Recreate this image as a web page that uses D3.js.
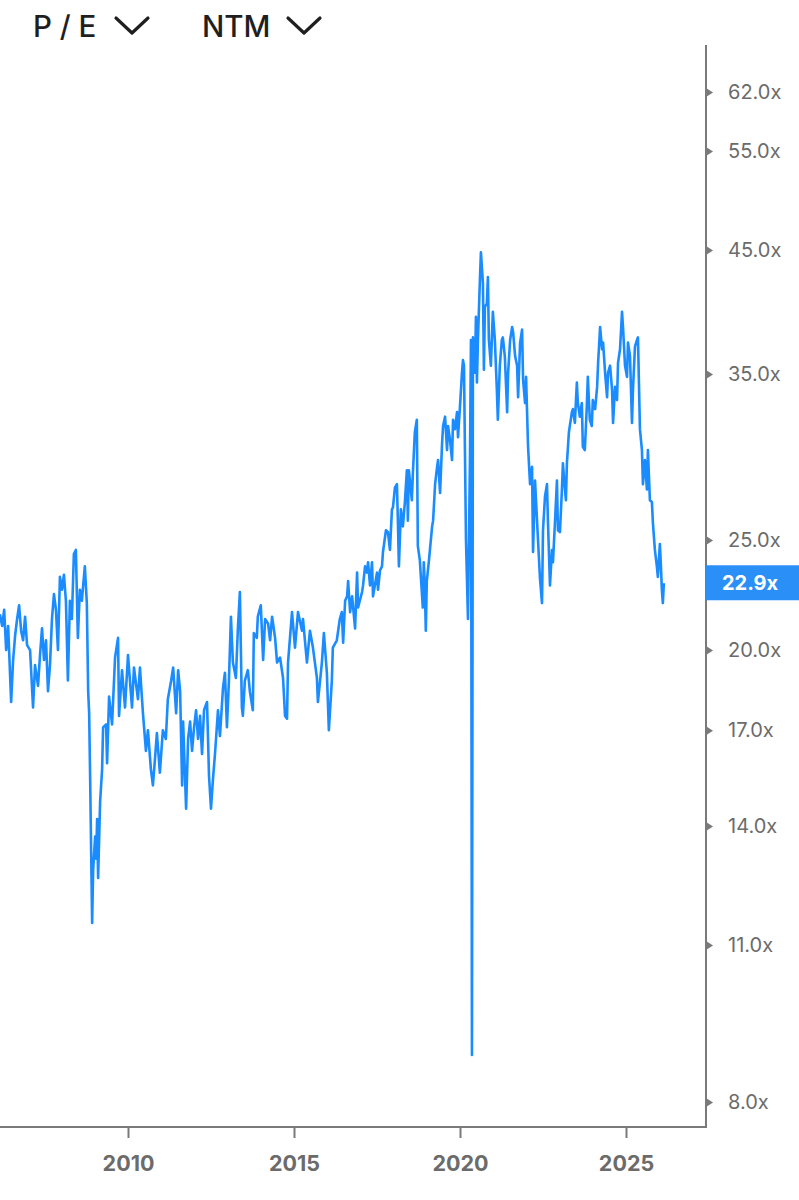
<!DOCTYPE html>
<html>
<head>
<meta charset="utf-8">
<script src="https://cdn.jsdelivr.net/npm/d3@7"></script>
<style>
  html, body { margin: 0; padding: 0; background: #fff; }
  svg { display: block; }
</style>
</head>
<body>
<svg id="chart" width="799" height="1200"></svg>
<script>
// ---- Data ----
const years = [
2006.14,2006.21,2006.27,2006.33,2006.39,2006.48,2006.54,2006.60,2006.66,2006.72,
2006.78,2006.84,2006.90,2006.96,2007.05,2007.14,2007.20,2007.29,2007.35,2007.41,
2007.47,2007.53,2007.59,2007.65,2007.71,2007.77,2007.83,2007.89,2007.95,2008.01,
2008.07,2008.13,2008.19,2008.25,2008.31,2008.37,2008.43,2008.49,2008.55,2008.61,
2008.70,2008.76,2008.80,2008.83,2008.86,2008.89,2008.92,2008.95,2009.01,2009.04,
2009.07,2009.10,2009.16,2009.22,2009.25,2009.34,2009.37,2009.43,2009.52,2009.61,
2009.70,2009.73,2009.82,2009.91,2010.00,2010.12,2010.18,2010.30,2010.36,2010.45,
2010.54,2010.60,2010.69,2010.75,2010.81,2010.87,2010.96,2011.05,2011.14,2011.20,
2011.30,2011.36,2011.45,2011.51,2011.57,2011.63,2011.66,2011.75,2011.81,2011.87,
2011.93,2011.99,2012.05,2012.11,2012.17,2012.23,2012.29,2012.38,2012.44,2012.50,
2012.56,2012.62,2012.71,2012.77,2012.86,2012.92,2012.98,2013.04,2013.10,2013.16,
2013.25,2013.31,2013.37,2013.43,2013.46,2013.52,2013.61,2013.67,2013.76,2013.79,
2013.88,2013.91,2014.00,2014.07,2014.13,2014.22,2014.28,2014.34,2014.43,2014.49,
2014.58,2014.67,2014.73,2014.79,2014.82,2014.94,2015.03,2015.12,2015.24,2015.27,
2015.39,2015.48,2015.57,2015.69,2015.72,2015.84,2015.90,2015.99,2016.05,2016.14,
2016.17,2016.29,2016.38,2016.44,2016.48,2016.54,2016.60,2016.63,2016.69,2016.75,
2016.84,2016.90,2016.93,2017.05,2017.08,2017.14,2017.20,2017.23,2017.29,2017.35,
2017.38,2017.50,2017.53,2017.59,2017.65,2017.68,2017.77,2017.83,2017.89,2017.95,
2017.98,2018.04,2018.10,2018.13,2018.16,2018.22,2018.28,2018.34,2018.40,2018.43,
2018.46,2018.55,2018.58,2018.64,2018.70,2018.73,2018.79,2018.85,2018.88,2018.91,
2018.94,2018.97,2019.00,2019.06,2019.16,2019.19,2019.25,2019.31,2019.34,2019.40,
2019.46,2019.49,2019.55,2019.61,2019.64,2019.70,2019.76,2019.79,2019.85,2019.91,
2019.94,2020.00,2020.06,2020.09,2020.12,2020.15,2020.18,2020.24,2020.30,2020.33,
2020.36,2020.39,2020.45,2020.48,2020.51,2020.54,2020.60,2020.63,2020.69,2020.72,
2020.75,2020.81,2020.84,2020.87,2020.93,2020.99,2021.05,2021.11,2021.14,2021.20,
2021.26,2021.29,2021.35,2021.42,2021.45,2021.51,2021.57,2021.60,2021.66,2021.72,
2021.75,2021.81,2021.87,2021.90,2021.96,2021.99,2022.05,2022.11,2022.17,2022.20,
2022.26,2022.32,2022.35,2022.41,2022.47,2022.50,2022.56,2022.62,2022.65,2022.71,
2022.77,2022.80,2022.86,2022.92,2022.95,2023.01,2023.07,2023.10,2023.13,2023.19,
2023.22,2023.28,2023.37,2023.40,2023.46,2023.52,2023.55,2023.61,2023.67,2023.70,
2023.76,2023.82,2023.85,2023.91,2023.97,2024.00,2024.07,2024.13,2024.16,2024.22,
2024.28,2024.31,2024.37,2024.43,2024.46,2024.52,2024.58,2024.61,2024.67,2024.73,
2024.76,2024.82,2024.88,2024.91,2024.97,2025.03,2025.06,2025.12,2025.18,2025.21,
2025.27,2025.33,2025.36,2025.42,2025.48,2025.51,2025.57,2025.63,2025.66,2025.72,
2025.78,2025.81,2025.87,2025.93,2025.96,2026.02,2026.05,2026.08,2026.11,2026.14
];
const peValues = [
21.5,21.0,21.7,20.0,21.0,18.0,19.6,20.6,21.3,21.9,
20.8,20.4,21.4,20.2,20.0,17.8,19.4,18.6,19.8,20.9,
19.6,20.4,18.4,19.4,21.3,22.4,21.7,20.0,23.2,22.6,
23.3,22.1,18.8,22.1,21.3,24.3,24.5,20.5,22.6,22.1,
23.7,22.0,18.4,17.6,15.4,13.3,11.5,12.8,13.7,13.1,
14.2,12.6,14.7,15.7,17.1,17.2,15.9,18.2,17.2,19.7,
20.5,17.5,19.2,17.8,19.8,17.8,19.3,18.1,19.3,17.6,
16.3,17.0,15.7,15.2,16.0,16.9,15.6,17.0,16.7,18.1,
18.8,19.3,17.6,19.2,18.4,15.2,17.3,14.5,16.7,17.3,
16.3,17.1,17.7,16.7,17.5,16.2,17.7,18.0,15.5,14.5,
15.4,16.2,17.7,16.8,18.5,19.1,17.1,18.8,21.4,19.5,
18.9,20.9,22.5,17.8,17.5,18.8,19.2,18.4,17.7,20.7,
20.5,21.4,21.9,19.6,21.3,21.1,20.4,21.4,20.5,19.5,
19.7,18.9,17.5,17.4,19.5,21.6,20.1,21.6,20.8,21.3,
19.5,20.8,20.1,18.9,18.0,19.5,20.7,19.1,17.0,18.8,
20.1,20.4,21.3,21.6,20.3,22.1,22.3,23.0,21.6,22.3,
20.9,23.4,21.8,22.5,22.8,23.7,23.4,23.9,22.8,23.9,
22.3,23.4,22.6,23.5,23.7,24.4,25.5,25.4,24.5,26.6,
26.7,27.8,28.0,25.9,23.7,26.6,25.7,27.0,28.8,26.0,
28.8,27.1,28.6,31.1,31.9,24.7,24.0,22.5,21.8,23.9,
22.8,20.8,23.0,23.9,25.7,26.0,28.0,29.0,29.4,27.5,
30.4,31.5,32.1,30.0,31.5,30.6,29.4,31.9,31.3,32.4,
30.8,32.8,35.1,36.0,35.6,29.8,25.0,21.3,29.4,37.5,
8.8,37.7,35.1,39.3,34.4,37.5,42.4,44.8,42.1,35.3,
40.1,40.4,42.6,37.5,35.6,39.7,37.5,33.9,31.9,35.6,
37.5,37.7,36.3,32.4,35.1,37.5,38.5,38.1,36.3,35.6,
33.4,37.3,38.3,34.6,33.0,34.8,30.2,28.0,29.0,24.4,
28.2,26.0,25.0,23.1,22.0,25.5,27.3,28.0,25.9,22.8,
24.5,23.9,25.9,28.2,25.5,25.4,27.7,29.2,28.4,27.1,
29.2,31.1,32.4,32.6,31.7,34.4,33.0,32.1,33.0,30.2,
30.0,32.8,34.8,31.9,31.5,33.2,32.6,34.1,35.8,38.5,
36.8,37.3,35.1,33.4,35.1,35.6,33.9,31.7,34.1,33.2,
35.8,36.8,39.7,38.5,35.6,34.8,37.3,36.3,31.7,33.9,
37.0,37.5,37.7,31.3,30.0,28.0,29.4,27.7,30.0,27.1,
27.0,25.9,24.5,23.7,23.2,24.8,23.8,22.6,22.0,22.9
];
const yTickValues = [8, 11, 14, 17, 20, 25, 35, 45, 55, 62];
const xTickValues = [2010, 2015, 2020, 2025];
const metricLabel = "P / E";
const periodLabel = "NTM";
const currentValue = peValues[peValues.length - 1];

// ---- Layout ----
const svg = d3.select("#chart");
const axisX = 706;       // right value axis position
const axisBottom = 1127; // bottom time axis position
const axisTop = 45;

const x = d3.scaleLinear().domain([2010, 2025]).range([128, 626]);
const y = d3.scaleLog().domain([8, 62]).range([1102, 92]);

const lineColor = "#1a8cff";
const axisColor = "#7a7a7a";
const textColor = "#6b6b6b";
const fontFamily = "Inter, 'Noto Sans', 'Liberation Sans', sans-serif";

const data = years.map((t, i) => ({ t, v: peValues[i] }));

// clip to plotting area
svg.append("defs").append("clipPath").attr("id", "plot")
  .append("rect").attr("x", 0).attr("y", 0).attr("width", axisX).attr("height", axisBottom);

// line
const line = d3.line().x(d => x(d.t)).y(d => y(d.v));
svg.append("path")
  .datum(data)
  .attr("clip-path", "url(#plot)")
  .attr("d", line)
  .attr("fill", "none")
  .attr("stroke", lineColor)
  .attr("stroke-width", 2.6)
  .attr("stroke-linejoin", "round");

// bottom axis
const xAxis = d3.axisBottom(x).tickValues(xTickValues).tickFormat(d3.format("d"))
  .tickSize(11).tickPadding(18);
const gx = svg.append("g").attr("transform", `translate(0,${axisBottom})`).call(xAxis);
gx.select(".domain").remove();
gx.selectAll(".tick line").attr("stroke", axisColor).attr("stroke-width", 2);
gx.selectAll(".tick text")
  .attr("fill", textColor).attr("font-family", fontFamily)
  .attr("font-size", 21.5).attr("font-weight", 700);
svg.append("line").attr("x1", 0).attr("x2", axisX).attr("y1", axisBottom).attr("y2", axisBottom)
  .attr("stroke", axisColor).attr("stroke-width", 2);

// right axis
const yAxis = d3.axisRight(y).tickValues(yTickValues).tickFormat(d => d.toFixed(1) + "x")
  .tickSize(0).tickPadding(22);
const gy = svg.append("g").attr("transform", `translate(${axisX},0)`).call(yAxis);
gy.select(".domain").remove();
gy.selectAll(".tick text")
  .attr("fill", textColor).attr("font-family", fontFamily)
  .attr("font-size", 20).attr("font-weight", 400);
gy.selectAll(".tick").append("path")
  .attr("d", "M0,-4.5L7,0L0,4.5Z")
  .attr("fill", axisColor);
svg.append("line").attr("x1", axisX).attr("x2", axisX).attr("y1", axisTop).attr("y2", axisBottom + 1)
  .attr("stroke", axisColor).attr("stroke-width", 2);

// current value badge
const cy = y(currentValue);
svg.append("rect").attr("x", axisX).attr("y", cy - 18).attr("width", 799 - axisX).attr("height", 35)
  .attr("fill", "#2a8ff7");
svg.append("text").attr("x", axisX + 16).attr("y", cy).attr("dy", "0.36em")
  .attr("fill", "#fff").attr("font-family", fontFamily)
  .attr("font-size", 20).attr("font-weight", 700)
  .text(currentValue.toFixed(1) + "x");

// header
const header = svg.append("g").attr("font-family", fontFamily).attr("fill", "#1f1f1f")
  .attr("font-size", 29.5).attr("font-weight", 500);
header.append("text").attr("x", 33).attr("y", 37).text(metricLabel);
header.append("text").attr("x", 202).attr("y", 37).text(periodLabel);
const chevron = "M0,0L16,15L32,0";
header.append("path").attr("transform", "translate(116,18)").attr("d", chevron)
  .attr("fill", "none").attr("stroke", "#1f1f1f").attr("stroke-width", 3.2).attr("stroke-linecap", "round").attr("stroke-linejoin", "round");
header.append("path").attr("transform", "translate(288,18)").attr("d", chevron)
  .attr("fill", "none").attr("stroke", "#1f1f1f").attr("stroke-width", 3.2).attr("stroke-linecap", "round").attr("stroke-linejoin", "round");
</script>
</body>
</html>
